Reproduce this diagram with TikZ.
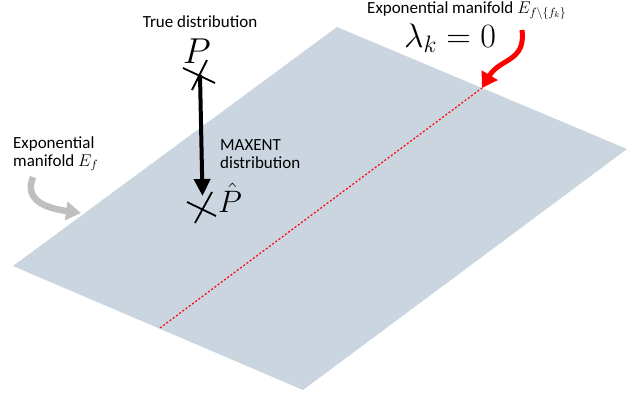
\RequirePackage{fix-cm}
\documentclass[tikz,border=0pt]{standalone}
\usepackage[no-math]{fontspec}
\setmainfont{Carlito}
\usetikzlibrary{arrows.meta}
\definecolor{plane}{HTML}{CBD5DF}
\definecolor{garrow}{HTML}{BFBFBF}
\definecolor{rarrow}{HTML}{FF0000}
\tikzset{
  lbl/.style={inner sep=0pt, font=\fontsize{17}{20}\selectfont},
  bigmath/.style={inner sep=0pt, font=\fontsize{36}{36}\selectfont},
  crossline/.style={line width=1.8pt},
}
\begin{document}
\begin{tikzpicture}[x=1pt,y=-1pt]
\path[use as bounding box] (0,0) rectangle (636,394);
% plane
\coordinate (top) at (337,27);
\coordinate (right) at (627,149);
\coordinate (bottom) at (303,390);
\coordinate (left) at (13,266);
\fill[plane] (top) -- (right) -- (bottom) -- (left) -- cycle;
% red dotted line
\coordinate (rd1) at (160,328);
\coordinate (rd2) at (482,88);
\draw[rarrow, line width=1.2pt, dash pattern=on 2pt off 2pt] (rd1) -- (rd2);
% texts
\node[lbl, anchor=base] (truelbl) at (200,27) {True distribution};
\node[bigmath, anchor=base] (P) at (197,63) {$P$};
\node[inner sep=0pt, font=\fontsize{31}{31}\selectfont, anchor=base] (Ph) at (230,212) {$\hat{P}$};
\node[lbl, anchor=base west] (max1) at (220,150) {MAXENT};
\node[lbl, anchor=base west] (max2) at (220,168) {distribution};
\node[lbl, anchor=base west] (ef1) at (13,148) {Exponential};
\node[lbl, anchor=base west] (ef2) at (13,166) {manifold $E_f$};
\node[lbl, anchor=base west] (efk) at (367,13) {Exponential manifold $E_{f\setminus\{f_k\}}$};
\node[anchor=base, fill=white, inner xsep=1pt, inner ysep=1.5pt, font=\fontsize{34}{34}\selectfont] (lam) at (450,47) {$\lambda_k = 0$};
% crosses
\coordinate (pc) at (200,75);
\coordinate (phc) at (203,209);
\draw[crossline] (183,68) -- (215,83);
\draw[crossline] (192,90) -- (207,60);
\draw[crossline] (187,202) -- (216,216);
\draw[crossline] (195,223) -- (212,192);
% black arrow
\coordinate (btip) at (202.5,196);
\draw[line width=4pt, -{Triangle[length=17pt,width=16pt]}] (pc) -- (btip);
% gray arrow
\coordinate (gs) at (33,177);
\coordinate (ge) at (81,213);
\draw[garrow, line width=6.5pt, -{Triangle[length=15pt,width=18pt]}] (gs) .. controls (24,200) and (45,208) .. (ge);
% red arrow
\coordinate (rs) at (522,30);
\coordinate (re) at (482,88);
\draw[rarrow, line width=5pt, -{Triangle[length=15pt,width=18pt]}] (rs) .. controls (526,62) and (500,58) .. (re);
\end{tikzpicture}
\end{document}
